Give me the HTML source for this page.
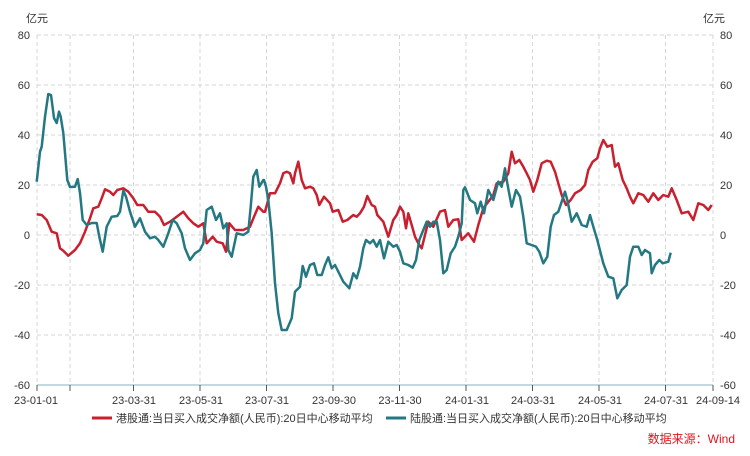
<!DOCTYPE html>
<html><head><meta charset="utf-8"><style>
body{margin:0;background:#fff;}
svg{display:block;font-family:"Liberation Sans","Noto Sans CJK SC",sans-serif;}
</style></head><body>
<svg width="750" height="456" viewBox="0 0 750 456">
<g stroke="#d6d6d6" stroke-width="1" stroke-dasharray="4,3">
<line x1="37" y1="35" x2="713" y2="35"/><line x1="37" y1="85" x2="713" y2="85"/><line x1="37" y1="135" x2="713" y2="135"/><line x1="37" y1="185" x2="713" y2="185"/><line x1="37" y1="235" x2="713" y2="235"/><line x1="37" y1="285" x2="713" y2="285"/><line x1="37" y1="335" x2="713" y2="335"/>
<line x1="37" y1="35" x2="37" y2="385"/><line x1="70" y1="35" x2="70" y2="385"/><line x1="133.5" y1="35" x2="133.5" y2="385"/><line x1="200" y1="35" x2="200" y2="385"/><line x1="266.5" y1="35" x2="266.5" y2="385"/><line x1="333" y1="35" x2="333" y2="385"/><line x1="399.5" y1="35" x2="399.5" y2="385"/><line x1="466" y1="35" x2="466" y2="385"/><line x1="532.5" y1="35" x2="532.5" y2="385"/><line x1="599" y1="35" x2="599" y2="385"/><line x1="665.5" y1="35" x2="665.5" y2="385"/><line x1="713" y1="35" x2="713" y2="385"/>
</g>
<line x1="37" y1="385" x2="713" y2="385" stroke="#c3d8df" stroke-width="2"/>
<g stroke="#555" stroke-width="1">
<line x1="37" y1="385" x2="37" y2="391"/><line x1="70" y1="385" x2="70" y2="391"/><line x1="133.5" y1="385" x2="133.5" y2="391"/><line x1="200" y1="385" x2="200" y2="391"/><line x1="266.5" y1="385" x2="266.5" y2="391"/><line x1="333" y1="385" x2="333" y2="391"/><line x1="399.5" y1="385" x2="399.5" y2="391"/><line x1="466" y1="385" x2="466" y2="391"/><line x1="532.5" y1="385" x2="532.5" y2="391"/><line x1="599" y1="385" x2="599" y2="391"/><line x1="665.5" y1="385" x2="665.5" y2="391"/><line x1="713" y1="385" x2="713" y2="391"/>
</g>
<g font-size="11" fill="#333" text-anchor="end">
<text x="30" y="39">80</text><text x="30" y="89">60</text><text x="30" y="139">40</text><text x="30" y="189">20</text><text x="30" y="239">0</text><text x="30" y="289">-20</text><text x="30" y="339">-40</text><text x="30" y="389">-60</text>
</g>
<g font-size="11" fill="#333" text-anchor="start">
<text x="720" y="39">80</text><text x="720" y="89">60</text><text x="720" y="139">40</text><text x="720" y="189">20</text><text x="720" y="239">0</text><text x="720" y="289">-20</text><text x="720" y="339">-40</text><text x="720" y="389">-60</text>
</g>
<text x="26" y="22" font-size="11" fill="#333">亿元</text>
<text x="703" y="22" font-size="11" fill="#333">亿元</text>
<g font-size="11" fill="#333" text-anchor="middle">
<text x="36" y="404">23-01-01</text><text x="134" y="404">23-03-31</text><text x="201" y="404">23-05-31</text><text x="267" y="404">23-07-31</text><text x="334" y="404">23-09-30</text><text x="400" y="404">23-11-30</text><text x="467" y="404">24-01-31</text><text x="533" y="404">24-03-31</text><text x="600" y="404">24-05-31</text><text x="666" y="404">24-07-31</text><text x="718" y="404">24-09-14</text>
</g>
<polyline fill="none" stroke="#c8202e" stroke-width="2.5" stroke-linejoin="round" points="36.7,214.3 41.7,215 46.7,220 51.7,231.7 56.7,233.3 60,248.3 63.3,250.7 68.3,255.7 75,250 80,243.3 85,231.7 90,218.3 93.3,208.3 98.3,206.7 101.7,198.3 105,189.3 110,191.7 113.3,195 117.3,190 123.3,188.3 128.3,191.7 133.3,198.3 137.3,205 143.3,205 148.3,211.7 155,211.7 160,216.7 164,225 170,221.7 176.7,216.7 183.3,211.7 188.3,218.3 193.3,223.3 198.3,226.7 203.3,223.3 206.7,243.3 212.7,236.7 216.7,241.7 222.7,243.3 226,251.7 229.3,223.3 235,230 243.3,230 250,226.7 254,216.7 258.3,206.7 263.3,211.7 265,211.7 270,193.3 275,193.3 280,183.3 283.3,173.3 286.7,171.7 290,173.3 293.3,183.3 295,173.3 298.3,161.7 301.7,180 305,188.3 310,186.7 313.3,188.3 316.7,195 319.3,205 324,196.7 330,203.3 332.7,211.7 338.3,210 342.7,221.7 347.3,220 353.3,215 356.7,216.7 360,213.3 364,206.7 367.3,196 371.7,205 375,206.7 377.3,215 383.3,221.7 388.3,236.7 393.3,220 396.7,215 400,206.7 403.3,211.7 406,228.3 408.3,213.3 411.7,225 415,236.7 418.3,243.3 421.7,248.3 425,235 428.3,221.7 433.3,226.7 440,211.7 445,210 448.3,226.7 453.3,220 458.3,219.3 461.7,240 468.3,233.3 474,241.7 478.3,225 483.3,208.3 488.3,201.7 493.3,195 496.7,183.3 503.3,181.7 508.3,173.3 511.7,151.7 515,163.3 519.3,160 523.3,166.7 526.7,173.3 530,180 533.3,191.7 537.3,180 541.7,163.3 546.7,160.7 550.7,161.7 555,171.7 558.3,183.3 561.7,195 566,205 570.7,200 575,193.3 580.7,190 585,185 588.3,170 592.7,161.7 597.3,158.3 600,148.3 603.3,140 607.3,146.7 611.7,145 615,166.7 618.3,163.3 622.7,180 626.7,188.3 630,196.7 633.3,203.3 638.3,193.3 643.3,195 648.3,201.7 653.3,193.3 658.3,200 663.3,195 668.3,196.7 671.7,188.3 676.7,200 681.7,213.3 688.3,211.7 693.3,220 698.3,203.3 703.3,205 708.3,210 711.7,205"/>
<polyline fill="none" stroke="#247882" stroke-width="2.5" stroke-linejoin="round" points="36.7,181.7 40,151.7 41.7,146.7 45,116.7 48.3,94 51,95 54,118 56.7,123 59,111.7 60.7,116.7 63.3,133 67.3,180 70,187 75,186.7 77.7,179 80,193 82.7,220 86.7,225 91.7,223 96.7,223 99.3,236.7 102.7,251.7 106.7,226.7 111.7,216.7 117.3,216 120,211.7 123.3,190.7 126,196.7 130,211.7 135,226.7 140,218.3 145,231.7 150,238.3 155,236.7 158.3,240 163.3,246.7 168.3,233.3 172.7,220 176.7,223.3 181.7,233.3 185,248.3 190,260 195,253.3 200,250 203.3,243.3 206.7,210 211.7,206.7 216,220 220,213.3 223.3,228.3 226.7,223.3 228.3,250 231.7,256.7 236.7,233.3 243.3,235 248.3,231.7 250.7,206.7 253.3,176.7 256.7,170 259.3,186.7 263.3,180 264,180 266,186.7 268.3,200 271.7,233.3 275,283.3 278.3,313.3 281.7,330 286.7,330 291.7,318.3 295,291.7 300,286.7 302.7,266 306,276.7 310,265 314,263.3 317.3,275 321.7,275 325,265 328.3,257.3 331.7,268.3 335,265 338.3,271.7 343.3,281.7 349.3,288.3 353.3,273.3 356.7,278.3 360,266.7 363.3,248.3 366,240 370,243.3 373.3,240 376.7,246.7 380,240 384,258.3 388.3,241.7 393.3,246.7 396.7,245 400,251.7 403.3,263.3 408.3,265 412.7,267.7 416,260 419.3,240 423.3,230 426.7,221.7 430,226.7 433.3,221.7 436.7,221.7 440,240 443.3,273.3 446.7,270 450.7,253.3 455,246.7 458.3,236.7 461.7,223.3 463.3,190 465,187.3 470,200 475,203.3 477.3,213.3 480.7,201.7 484,213.3 488.3,190 493.3,200 498.3,181.7 501.7,186.7 505,168.3 507.3,183.3 511.7,206.7 516,190 520,196.7 523.3,216.7 526.7,243.3 531.7,245 536,246.7 539.3,251.7 543.3,263.3 547.3,256.7 550.7,226.7 554,215 558.3,211.7 561.7,201.7 565,191.7 567.3,200 571.7,221.7 576.7,213.3 581.7,225 586.7,226.7 590,215 593.3,226.7 597.3,240 603.3,263.3 608.3,276.7 613.3,278.3 617.3,298.3 621.7,290 626.7,285 630,256.7 633.3,246.7 638.3,246.7 641.7,255 645,250 650,253.3 651.7,273.3 655,265 659.3,260 662.7,263.3 668.3,261.7 670.7,252.7"/>
<line x1="92" y1="418" x2="112" y2="418" stroke="#c8202e" stroke-width="3"/>
<text x="116" y="422" font-size="11" fill="#333">港股通:当日买入成交净额(人民币):20日中心移动平均</text>
<line x1="386" y1="418" x2="406" y2="418" stroke="#247882" stroke-width="3"/>
<text x="410" y="422" font-size="11" fill="#333">陆股通:当日买入成交净额(人民币):20日中心移动平均</text>
<text x="735" y="443" font-size="12" fill="#e0141e" text-anchor="end">数据来源：Wind</text>
</svg>
</body></html>
